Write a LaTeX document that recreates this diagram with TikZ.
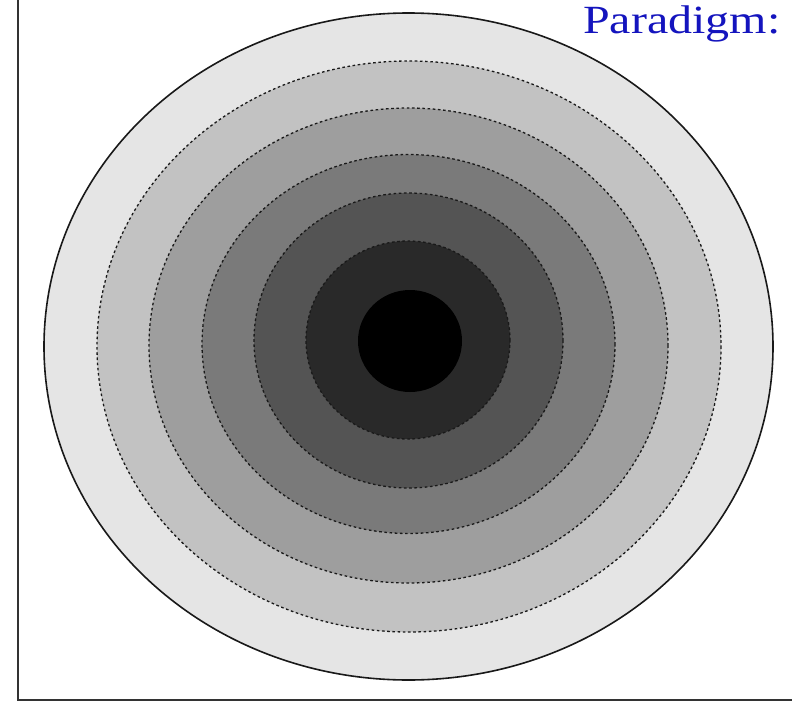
\documentclass[tikz,border=0pt]{standalone}
\usepackage{fontspec}
\usepackage{graphicx}
\setmainfont{Liberation Serif}
\definecolor{band1}{gray}{0.90}
\definecolor{band2}{gray}{0.76}
\definecolor{band3}{gray}{0.62}
\definecolor{band4}{gray}{0.48}
\definecolor{band5}{gray}{0.33}
\definecolor{band6}{gray}{0.16}
\definecolor{titleblue}{RGB}{20,20,190}
\tikzset{
  contour/.style={draw=black!90, line width=1.3pt, dash pattern=on 2.6pt off 2.6pt},
  outercontour/.style={draw=black!90, line width=1.6pt},
  frameline/.style={draw=black!80, line width=2pt}
}
\begin{document}
\begin{tikzpicture}[x=1pt,y=-1pt]
\useasboundingbox[fill=white] (0,0) rectangle (792,704);
% frame
\draw[frameline] (18,0) -- (18,700) -- (792,700);
% contour bands
\filldraw[outercontour, fill=band1] (408.5,346.5) ellipse [x radius=364.5, y radius=333.5];
\filldraw[contour, fill=band2] (409,346.5) ellipse [x radius=312, y radius=285.5];
\filldraw[contour, fill=band3] (408.5,345.5) ellipse [x radius=259.5, y radius=237.5];
\filldraw[contour, fill=band4] (408.5,344) ellipse [x radius=206.5, y radius=189.5];
\filldraw[contour, fill=band5] (408.5,340.5) ellipse [x radius=154.5, y radius=147.5];
\filldraw[contour, fill=band6] (408,340) ellipse [x radius=102, y radius=99];
\fill[black] (410,341) ellipse [x radius=52, y radius=51];
% title
\node[anchor=base west, inner sep=0pt, text=titleblue, font=\fontsize{40}{44}\selectfont] (title) at (583,33) {\scalebox{1.2}[1]{Paradigm:}};
\end{tikzpicture}
\end{document}
